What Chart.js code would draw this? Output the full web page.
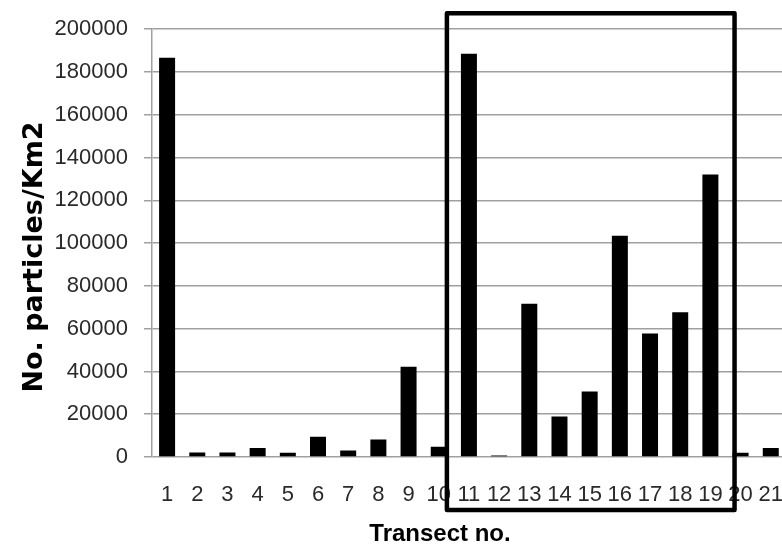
<!DOCTYPE html>
<html>
<head>
<meta charset="utf-8">
<script src="https://cdn.jsdelivr.net/npm/chart.js@4.4.1/dist/chart.umd.min.js"></script>
<style>
	html, body { margin: 0; padding: 0; background: #fff; overflow: hidden; }
	#wrap { position: relative; width: 786px; height: 547px; }
</style>
</head>
<body>
<div id="wrap"><canvas id="chart"></canvas></div>
<script>
// transect numbers and particle counts per km2
var transects = ['1', '2', '3', '4', '5', '6', '7', '8', '9', '10', '11', '12', '13', '14', '15', '16', '17', '18', '19', '20', '21'];
var particles = [186600, 2100, 2100, 4200, 2000, 9500, 3000, 8200, 42200, 4800, 188500, 700, 71600, 18900, 30600, 103400, 57700, 67700, 132100, 2000, 4200];
var yMin = 0;
var yMax = 200000;
var yStep = 20000;

var xTitle = 'Transect no.';
var yTitle = 'No. particles/Km2';

// highlighted group: from between transect 10/11 to between 19/20 (category index units)
var boxFrom = 9.27;
var boxTo = 18.8;

var GRID = '#a0a0a0';
var TICK_FONT = { family: "'Liberation Sans', Arial, sans-serif", size: 22 };

// axis titles + the black box round transects 11-19
var extras = {
	id: 'extras',
	afterDraw: function (chart) {
		var ctx = chart.ctx;
		var area = chart.chartArea;
		var x = chart.scales.x;

		ctx.save();
		ctx.fillStyle = '#000';
		ctx.font = "bold 24px 'Liberation Sans', Arial, sans-serif";
		ctx.textAlign = 'center';
		ctx.textBaseline = 'alphabetic';
		ctx.fillText(xTitle, 440, 541);

		ctx.translate(42, 257);
		ctx.rotate(-Math.PI / 2);
		ctx.font = "bold 27px 'DejaVu Sans', sans-serif";
		ctx.fillText(yTitle, 0, 0);
		ctx.restore();

		ctx.save();
		ctx.strokeStyle = '#000';
		ctx.lineWidth = 4.5;
		ctx.lineJoin = 'round';
		var left = x.getPixelForValue(boxFrom);
		var right = x.getPixelForValue(boxTo);
		var top = area.top - 16;
		var bottom = area.bottom + 53;
		ctx.strokeRect(left, top, right - left, bottom - top);
		ctx.restore();
	}
};

new Chart(document.getElementById('chart'), {
	type: 'bar',
	data: {
		labels: transects,
		datasets: [{
			label: 'No. particles/Km2',
			data: particles,
			backgroundColor: '#000',
			borderWidth: 0,
			categoryPercentage: 1,
			barPercentage: 0.53
		}]
	},
	options: {
		animation: false,
		responsive: true,
		maintainAspectRatio: false,
		layout: { padding: { top: 27, right: 0, bottom: 0, left: 0 } },
		plugins: {
			legend: { display: false },
			tooltip: { enabled: false }
		},
		scales: {
			x: {
				// grid hidden, tickLength only pushes the labels down
				grid: { display: false, drawTicks: true, tickLength: 22 },
				border: { display: false },
				ticks: { color: '#2a2a2a', font: TICK_FONT, padding: 3, autoSkip: false, maxRotation: 0 },
				afterFit: function (s) { s.height = 90; }
			},
			y: {
				min: yMin,
				max: yMax,
				grid: { color: GRID, lineWidth: 1.5, tickLength: 8 },
				border: { color: GRID, width: 1.5 },
				ticks: {
					stepSize: yStep, color: '#2a2a2a', font: TICK_FONT, padding: 16,
					callback: function (v) { return String(v); }
				},
				afterFit: function (s) { s.width = 152; }
			}
		}
	},
	plugins: [extras]
});
</script>
</body>
</html>
